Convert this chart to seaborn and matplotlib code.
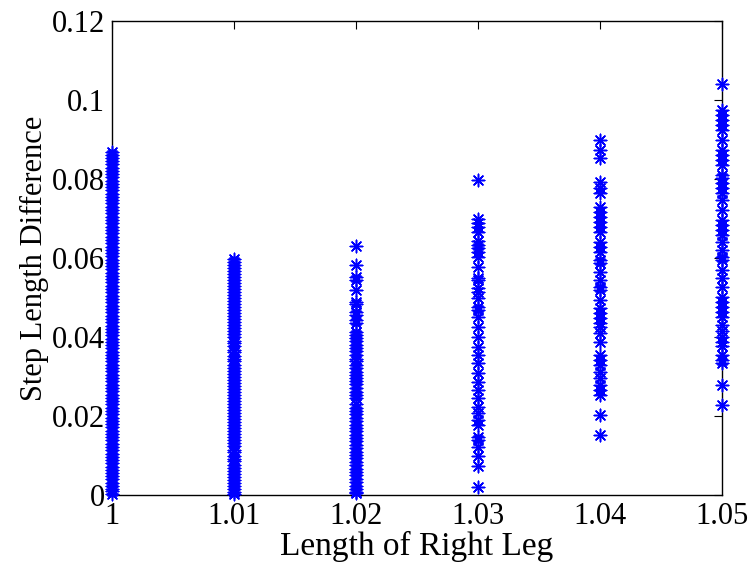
import matplotlib
matplotlib.use("Agg")
import matplotlib.pyplot as plt
import seaborn as sns
import pandas as pd

# ---- data ----
leg_lengths = [1.00, 1.01, 1.02, 1.03, 1.04, 1.05]

y100 = [0.0002, 0.0009, 0.0015, 0.0024, 0.0031, 0.0040, 0.0047, 0.0055, 0.0063, 0.0071,
        0.0080, 0.0088, 0.0096, 0.0105, 0.0113, 0.0121, 0.0130, 0.0138, 0.0146, 0.0155,
        0.0163, 0.0171, 0.0180, 0.0188, 0.0196, 0.0205, 0.0213, 0.0221, 0.0230, 0.0238,
        0.0246, 0.0254, 0.0263, 0.0271, 0.0279, 0.0288, 0.0296, 0.0304, 0.0313, 0.0321,
        0.0329, 0.0338, 0.0346, 0.0354, 0.0363, 0.0371, 0.0379, 0.0388, 0.0396, 0.0404,
        0.0413, 0.0421, 0.0429, 0.0438, 0.0446, 0.0454, 0.0463, 0.0471, 0.0479, 0.0488,
        0.0496, 0.0504, 0.0513, 0.0521, 0.0529, 0.0538, 0.0546, 0.0554, 0.0563, 0.0571,
        0.0579, 0.0588, 0.0596, 0.0604, 0.0613, 0.0621, 0.0629, 0.0638, 0.0646, 0.0654,
        0.0663, 0.0671, 0.0679, 0.0688, 0.0696, 0.0704, 0.0713, 0.0721, 0.0729, 0.0738,
        0.0746, 0.0754, 0.0763, 0.0771, 0.0779, 0.0788, 0.0796, 0.0804, 0.0813, 0.0821,
        0.0829, 0.0838, 0.0846, 0.0854, 0.0862, 0.0868]

y101 = [0.0002, 0.0008, 0.0016, 0.0023, 0.0031, 0.0039, 0.0046, 0.0054, 0.0062, 0.0069,
        0.0077, 0.0085, 0.0092, 0.0100, 0.0108, 0.0115, 0.0123, 0.0131, 0.0138, 0.0146,
        0.0154, 0.0161, 0.0169, 0.0177, 0.0184, 0.0192, 0.0200, 0.0207, 0.0215, 0.0223,
        0.0230, 0.0238, 0.0246, 0.0253, 0.0261, 0.0269, 0.0276, 0.0284, 0.0292, 0.0299,
        0.0307, 0.0315, 0.0322, 0.0330, 0.0338, 0.0345, 0.0353, 0.0361, 0.0368, 0.0376,
        0.0384, 0.0391, 0.0399, 0.0407, 0.0414, 0.0422, 0.0430, 0.0437, 0.0445, 0.0453,
        0.0460, 0.0468, 0.0476, 0.0483, 0.0491, 0.0499, 0.0506, 0.0514, 0.0522, 0.0529,
        0.0537, 0.0545, 0.0552, 0.0560, 0.0568, 0.0575, 0.0583, 0.0590, 0.0597]

y102 = [0.0631, 0.0582, 0.0551, 0.0544, 0.0519, 0.0489, 0.0483, 0.0464, 0.0455, 0.0443,
        0.0435, 0.0413, 0.0405, 0.0398, 0.0390, 0.0380, 0.0372, 0.0365, 0.0355, 0.0345,
        0.0338, 0.0330, 0.0321, 0.0312, 0.0305, 0.0296, 0.0288, 0.0280, 0.0271, 0.0262,
        0.0254, 0.0245, 0.0230, 0.0221, 0.0212, 0.0204, 0.0196, 0.0187, 0.0178, 0.0170,
        0.0161, 0.0153, 0.0144, 0.0136, 0.0127, 0.0118, 0.0110, 0.0101, 0.0093, 0.0084,
        0.0076, 0.0067, 0.0059, 0.0050, 0.0041, 0.0033, 0.0024, 0.0016, 0.0008, 0.0004]

y103 = [0.0797, 0.0698, 0.0689, 0.0679, 0.0667, 0.0643, 0.0633, 0.0625, 0.0616, 0.0603,
        0.0576, 0.0549, 0.0544, 0.0523, 0.0515, 0.0498, 0.0477, 0.0468, 0.0451, 0.0426,
        0.0401, 0.0375, 0.0354, 0.0333, 0.0310, 0.0287, 0.0266, 0.0245, 0.0224, 0.0207,
        0.0190, 0.0177, 0.0148, 0.0139, 0.0122, 0.0099, 0.0074, 0.0021]

y104 = [0.0899, 0.0873, 0.0852, 0.0793, 0.0776, 0.0764, 0.0730, 0.0717, 0.0705, 0.0692,
        0.0679, 0.0667, 0.0641, 0.0629, 0.0616, 0.0595, 0.0587, 0.0565, 0.0544, 0.0527,
        0.0519, 0.0494, 0.0473, 0.0460, 0.0447, 0.0435, 0.0426, 0.0409, 0.0388, 0.0354,
        0.0342, 0.0329, 0.0312, 0.0295, 0.0278, 0.0266, 0.0253, 0.0203, 0.0152]

y105 = [0.1041, 0.0975, 0.0962, 0.0949, 0.0937, 0.0924, 0.0899, 0.0873, 0.0861, 0.0848,
        0.0835, 0.0810, 0.0802, 0.0789, 0.0776, 0.0764, 0.0747, 0.0722, 0.0696, 0.0684,
        0.0671, 0.0658, 0.0641, 0.0620, 0.0603, 0.0595, 0.0570, 0.0549, 0.0527, 0.0502,
        0.0489, 0.0477, 0.0464, 0.0451, 0.0430, 0.0414, 0.0401, 0.0388, 0.0376, 0.0354,
        0.0342, 0.0333, 0.0278, 0.0228]

series = [y100, y101, y102, y103, y104, y105]

x_ticks = [1.00, 1.01, 1.02, 1.03, 1.04, 1.05]
x_tick_labels = ["1", "1.01", "1.02", "1.03", "1.04", "1.05"]
y_ticks = [0, 0.02, 0.04, 0.06, 0.08, 0.10, 0.12]
y_tick_labels = ["0", "0.02", "0.04", "0.06", "0.08", "0.1", "0.12"]

xs, ys = [], []
for L, vals in zip(leg_lengths, series):
    xs.extend([L] * len(vals))
    ys.extend(vals)
df = pd.DataFrame({"leg": xs, "diff": ys})

# ---- plot ----
sns.set_theme(style="white")
plt.rcParams["font.family"] = ["Liberation Serif", "DejaVu Serif"]
plt.rcParams["text.color"] = "black"
plt.rcParams["axes.labelcolor"] = "black"

fig = plt.figure(figsize=(7.48, 5.63), dpi=100)
ax = fig.add_axes([112 / 748, 1 - 495 / 563, (722 - 112) / 748, (495 - 21) / 563])

sns.scatterplot(data=df, x="leg", y="diff", ax=ax, marker=(8, 2, 0), s=80,
                color="#0000ff", edgecolor="#0000ff", linewidth=1.1,
                clip_on=False, zorder=3, legend=False)

ax.set_xlim(1.0, 1.05)
ax.set_ylim(0, 0.12)
ax.set_xticks(x_ticks)
ax.set_xticklabels(x_tick_labels)
ax.set_yticks(y_ticks)
ax.set_yticklabels(y_tick_labels)

for sp in ax.spines.values():
    sp.set_visible(True)
    sp.set_color("black")
    sp.set_linewidth(1.0)

ax.tick_params(axis="both", which="both", direction="in", length=6, width=0.8,
               top=True, right=True, labelsize=22, colors="black", labelcolor="black", pad=5)
ax.set_xlabel("Length of Right Leg", fontsize=24, labelpad=0, color="black")
ax.set_ylabel("Step Length Difference", fontsize=22, labelpad=2, color="black")

fig.savefig("out.png", dpi=100, facecolor="white")
